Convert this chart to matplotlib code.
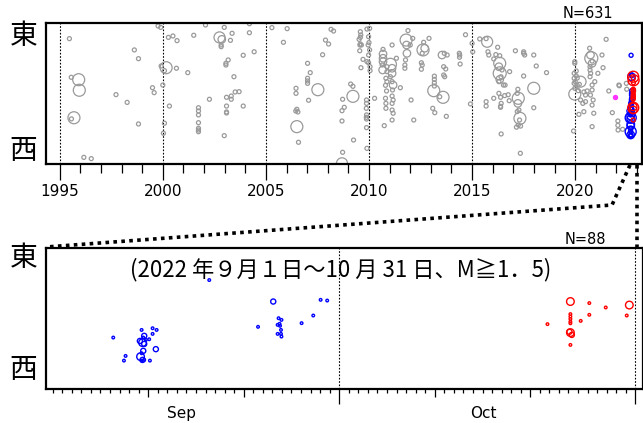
import numpy as np
import matplotlib
matplotlib.use("Agg")
import matplotlib.pyplot as plt
from matplotlib.lines import Line2D

plt.rcParams['font.family'] = ['DejaVu Sans']
JP = ['Noto Sans CJK JP', 'DejaVu Sans']

# ---- data: all events 1995-2022 (gray), year / east-west position (0=west, 100=east) / magnitude
hist_year = [
    1995.47, 1995.56, 1995.92, 1995.95, 1995.69, 1995.57, 1996.17, 1996.53, 1997.73, 1998.27,
    1998.62, 1998.82, 1998.82, 1999.50, 1999.58, 1999.77, 1999.90, 1999.92, 2000.16, 2000.08,
    2000.00, 2000.08, 2000.03, 2000.27, 2000.49, 2000.69, 2000.66, 2001.21, 2000.32, 2001.50,
    2002.07, 2001.73, 2001.73, 2001.73, 2001.73, 2001.73, 2001.73, 2001.73, 2002.26, 2002.75,
    2002.86, 2002.83, 2002.83, 2002.98, 2003.36, 2003.28, 2003.90, 2003.17, 2003.06, 2003.06,
    2003.45, 2003.09, 2003.32, 2003.32, 2003.51, 2003.70, 2003.09, 2003.09, 2003.09, 2003.90,
    2002.98,
    2004.20, 2004.20, 2004.43, 2005.29, 2006.03, 2005.85, 2008.16, 2008.28, 2007.89, 2008.04,
    2007.75, 2007.02, 2007.15, 2007.02, 2007.02, 2007.02, 2007.52, 2006.46, 2006.46, 2007.07,
    2006.50, 2006.55, 2006.45, 2006.50, 2006.58, 2009.11, 2009.22, 2009.22, 2008.72, 2008.80,
    2008.69, 2008.69, 2009.25, 2008.72, 2008.69,
    2009.58, 2009.60, 2009.58, 2009.52, 2009.58, 2009.56, 2009.55, 2009.63, 2009.71, 2009.61,
    2009.90, 2010.03, 2009.98, 2010.00, 2009.96, 2010.03, 2009.98, 2009.90, 2009.98, 2010.05,
    2010.05, 2009.88, 2009.88, 2009.87, 2009.88, 2009.87, 2009.88, 2009.88, 2009.90, 2010.27,
    2010.68, 2010.68, 2010.68, 2010.68, 2010.64, 2010.66, 2010.87, 2010.87, 2010.82, 2010.87,
    2010.80, 2010.85, 2010.80, 2010.82, 2010.82, 2010.74,
    2011.04, 2011.12, 2011.12, 2011.17, 2011.12, 2011.04, 2011.14, 2011.12, 2011.17, 2011.12,
    2011.12, 2011.17, 2011.12, 2011.52, 2011.33, 2011.12,
    2011.80, 2011.82, 2011.84, 2011.77, 2011.74, 2011.74, 2011.89, 2012.12, 2012.00, 2012.17,
    2012.04,
    2012.62, 2012.70, 2012.58, 2012.54, 2012.58, 2012.54, 2012.65, 2012.91,
    2013.14, 2013.17, 2013.17, 2013.17, 2013.17, 2013.43, 2013.09, 2013.19,
    2014.68, 2013.54, 2013.79, 2013.65, 2014.38, 2014.40, 2014.39, 2014.42, 2013.62, 2013.72,
    2013.62, 2013.67, 2013.59, 2013.75, 2014.92, 2015.00, 2015.03, 2015.37, 2015.73, 2015.68,
    2016.24, 2015.77, 2015.81, 2016.34, 2016.15, 2016.05,
    2016.34, 2016.34, 2016.30, 2016.45, 2016.40, 2016.52, 2016.60, 2016.30, 2016.38, 2016.58,
    2016.75, 2016.80, 2016.41, 2016.38, 2016.38, 2015.68, 2015.68, 2016.05, 2016.41, 2016.34,
    2016.30,
    2016.82, 2017.10, 2017.50, 2017.50, 2017.55, 2017.50, 2017.99, 2018.11, 2018.61, 2017.99,
    2017.99,
    2017.22, 2017.19, 2017.24, 2017.22, 2017.27, 2017.19, 2017.32, 2017.30, 2017.24, 2017.35,
    2017.15, 2017.34,
    2019.98, 2019.98, 2019.95, 2019.95, 2020.05, 2020.00, 2019.95, 2020.10, 2019.98, 2020.26,
    2019.98, 2020.15, 2020.42, 2020.50, 2020.58, 2020.50, 2020.37, 2020.26, 2020.18, 2020.42,
    2019.92, 2020.05, 2020.10, 2020.20,
    2020.78, 2020.74, 2020.82, 2020.72, 2020.72, 2020.75, 2020.72, 2020.95, 2020.82, 2020.82,
    2020.74, 2020.87, 2020.82, 2020.90, 2020.82, 2021.10, 2021.30, 2021.35, 2020.70, 2020.82,
    2021.50, 2021.63, 2021.80, 2022.12, 2022.14, 2022.07, 2022.07, 2022.08, 2022.30, 2022.48,
    2022.50,
]
hist_ew = [
    88.9, 61.5, 59.8, 52.3, 32.8, 32.0, 4.7, 3.8, 49.2, 43.7,
    80.9, 74.7, 28.4, 54.1, 50.6, 97.9, 96.9, 69.5, 68.3, 66.2,
    56.0, 28.9, 21.8, 89.8, 90.8, 87.5, 67.9, 64.8, 41.1, 91.3,
    98.6, 39.9, 37.6, 34.8, 29.3, 25.3, 24.1, 22.9, 45.9, 89.8,
    88.4, 84.4, 83.2, 96.9, 92.7, 87.7, 77.1, 73.8, 71.4, 70.2,
    61.9, 47.3, 48.2, 45.9, 51.1, 51.3, 41.1, 36.9, 36.2, 41.1,
    20.1,
    99.5, 93.1, 79.6, 96.7, 96.0, 86.3, 95.5, 94.3, 87.9, 85.1,
    77.5, 71.4, 64.8, 60.8, 58.9, 57.2, 52.7, 53.7, 50.1, 45.2,
    38.8, 36.9, 37.6, 26.5, 15.4, 56.7, 55.1, 48.0, 45.9, 40.2,
    37.8, 30.5, 17.0, 8.3, 0.5,
    93.8, 91.5, 89.8, 88.4, 85.1, 84.4, 80.3, 84.4, 74.2, 68.3,
    95.7, 96.2, 90.3, 86.1, 84.4, 80.9, 77.3, 72.6, 71.8, 69.0,
    66.2, 45.4, 43.0, 39.5, 34.8, 33.1, 31.9, 25.8, 11.1, 46.6,
    81.3, 78.0, 75.0, 72.6, 70.2, 66.7, 69.0, 65.5, 60.8, 58.4,
    55.8, 51.8, 46.6, 43.0, 39.5, 27.2,
    70.7, 67.9, 64.3, 56.0, 58.4, 61.9, 52.5, 48.2, 45.4, 43.0,
    38.3, 36.0, 31.2, 54.1, 75.0, 84.4,
    87.9, 84.4, 78.5, 73.8, 70.2, 67.9, 94.6, 89.1, 84.4, 31.2,
    45.4,
    80.9, 82.1, 78.5, 71.8, 70.2, 67.2, 86.3, 89.1,
    52.0, 62.3, 60.0, 57.6, 55.3, 47.7, 39.5, 36.4,
    91.7, 77.3, 77.3, 78.5, 78.5, 77.3, 75.7, 70.9, 69.0, 67.4,
    63.1, 61.9, 47.3, 33.8, 42.6, 85.6, 79.6, 88.7, 86.7, 88.9,
    82.8, 79.6, 77.3, 76.8, 77.6, 74.5,
    71.4, 64.3, 69.0, 66.7, 61.9, 56.0, 56.0, 50.1, 47.3, 48.5,
    49.1, 44.9, 43.0, 40.9, 40.2, 44.2, 41.1, 46.6, 21.3, 60.0,
    58.4,
    65.5, 80.3, 79.6, 78.5, 77.3, 62.4, 77.3, 69.5, 64.8, 53.7,
    39.9,
    53.0, 50.1, 46.6, 43.0, 38.3, 37.2, 32.4, 31.2, 27.7, 26.9,
    26.1, 7.6,
    72.6, 71.4, 64.3, 60.8, 62.5, 58.4, 57.2, 55.8, 53.7, 58.4,
    49.6, 52.0, 51.1, 48.9, 51.8, 44.2, 43.0, 45.4, 35.2, 37.1,
    23.4, 66.0, 61.0, 56.5,
    75.0, 77.3, 71.4, 69.0, 66.7, 64.3, 61.9, 58.4, 56.0, 52.5,
    48.9, 45.4, 41.8, 36.0, 26.5, 64.3, 77.3, 68.3, 82.1, 73.0,
    88.4, 51.8, 36.4, 56.0, 55.5, 30.5, 27.4, 24.1, 24.6, 57.2,
    53.0,
]
hist_mag = [
    1.6, 1.6, 3.2, 3.2, 3.2, 1.6, 1.6, 1.6, 1.6, 1.6,
    1.6, 1.6, 1.6, 1.6, 1.6, 1.6, 1.6, 1.6, 3.2, 1.6,
    1.6, 1.6, 1.6, 1.6, 1.6, 1.6, 1.6, 1.6, 1.6, 1.6,
    1.6, 1.6, 1.6, 1.6, 1.6, 1.6, 1.6, 1.6, 1.6, 3.0,
    2.3, 1.6, 1.6, 1.6, 1.6, 1.6, 1.6, 1.6, 1.6, 1.6,
    1.6, 1.6, 1.6, 1.6, 1.6, 1.6, 1.6, 1.6, 1.6, 1.6,
    1.6,
    1.6, 1.6, 1.6, 1.6, 1.6, 1.6, 1.6, 1.6, 1.6, 1.6,
    1.6, 1.6, 1.6, 1.6, 1.6, 1.6, 3.2, 1.6, 1.6, 1.6,
    1.6, 1.6, 1.6, 3.2, 1.6, 1.6, 1.6, 3.2, 1.6, 1.6,
    1.6, 1.6, 1.6, 1.6, 3.0,
    1.6, 1.6, 1.6, 1.6, 1.6, 1.6, 1.6, 1.6, 1.6, 1.6,
    1.6, 1.6, 1.6, 1.6, 1.6, 1.6, 1.6, 1.6, 1.6, 1.6,
    1.6, 1.6, 1.6, 1.6, 1.6, 1.6, 1.6, 1.6, 1.6, 1.6,
    1.6, 2.3, 2.3, 2.3, 1.6, 2.3, 1.6, 1.6, 1.6, 1.6,
    1.6, 1.6, 1.6, 1.6, 1.6, 1.6,
    3.2, 2.3, 2.3, 2.3, 1.6, 1.6, 1.6, 1.6, 1.6, 1.6,
    1.6, 1.6, 1.6, 1.6, 1.6, 1.6,
    3.2, 2.3, 2.3, 1.6, 1.6, 1.6, 1.6, 1.6, 1.6, 1.6,
    1.6,
    3.2, 2.3, 1.6, 1.6, 1.6, 1.6, 1.6, 1.6,
    3.2, 1.6, 1.6, 1.6, 1.6, 1.6, 1.6, 1.6,
    1.6, 2.3, 1.6, 1.6, 1.6, 1.6, 1.6, 1.6, 1.6, 1.6,
    1.6, 1.6, 3.2, 1.6, 1.6, 1.6, 1.6, 1.6, 3.0, 1.6,
    1.6, 1.6, 1.6, 1.6, 1.6, 1.6,
    3.2, 3.4, 2.3, 1.6, 1.6, 1.6, 1.6, 1.6, 1.6, 1.6,
    1.6, 1.6, 1.6, 1.6, 1.6, 1.6, 1.6, 1.6, 1.6, 2.3,
    1.6,
    1.6, 1.6, 1.6, 1.6, 1.6, 1.6, 1.6, 1.6, 1.6, 3.2,
    1.6,
    1.6, 1.6, 3.2, 2.3, 1.6, 1.6, 3.2, 1.6, 1.6, 1.6,
    1.6, 1.6,
    1.6, 1.6, 1.6, 1.6, 1.6, 1.6, 1.6, 1.6, 1.6, 3.0,
    3.2, 1.6, 1.6, 1.6, 1.6, 1.6, 1.6, 1.6, 1.6, 1.6,
    1.6, 1.6, 1.6, 1.6,
    3.4, 2.3, 2.3, 1.6, 1.6, 1.6, 1.6, 1.6, 1.6, 1.6,
    1.6, 1.6, 1.6, 1.6, 1.6, 1.6, 1.6, 1.6, 1.6, 1.6,
    1.6, 1.6, 1.6, 1.6, 1.6, 1.6, 1.6, 1.6, 1.6, 1.6,
    1.6,
]

# one extra event highlighted in magenta
pink_year = [2021.92]
pink_ew = [47.7]

# ---- 2022-09-01 .. 2022-10-31 events, day since Sep 1
sep_day = [6.34, 7.46, 7.63, 9.31, 9.58, 9.48, 9.13, 9.41, 9.58, 9.76,
           10.10, 10.46, 10.88, 10.46, 10.80, 9.48, 9.31, 9.20, 9.41, 9.58,
           10.18, 9.30, 16.39, 21.50, 23.09, 23.65, 23.75, 23.55, 23.80, 23.95,
           23.90, 23.55, 23.90, 23.95, 26.06, 27.28, 28.05, 28.74]
sep_ew = [36.4, 20.1, 23.4, 41.8, 37.6, 36.4, 34.0, 32.8, 31.9, 34.8,
          35.2, 43.0, 41.8, 39.0, 28.2, 27.0, 25.3, 22.9, 20.6, 20.6,
          20.1, 20.1, 77.1, 44.0, 61.9, 50.1, 46.1, 45.4, 44.7, 48.9,
          41.8, 39.0, 39.0, 37.1, 46.6, 52.0, 63.1, 62.6]
sep_mag = [1.6, 1.6, 1.6, 1.6, 2.3, 1.6, 2.3, 3.0, 2.3, 1.6,
           1.6, 1.6, 1.6, 1.6, 2.3, 2.3, 1.6, 3.0, 2.3, 1.6,
           1.6, 1.6, 1.6, 1.6, 2.3, 1.6, 1.6, 1.6, 1.6, 1.6,
           1.6, 1.6, 1.6, 1.6, 1.6, 1.6, 1.6, 1.6]

oct_day = [51.80, 54.20, 54.20, 54.20, 54.20, 54.20, 54.20, 54.20, 54.35, 54.10,
           54.20, 55.28, 56.18, 56.18, 57.90, 60.37, 60.10]
oct_ew = [45.9, 61.9, 53.0, 51.3, 49.6, 47.7, 46.5, 39.9, 38.3, 40.5,
          31.2, 48.2, 60.8, 52.5, 57.7, 59.4, 52.0]
oct_mag = [1.6, 3.0, 1.6, 1.6, 1.6, 1.6, 1.6, 3.0, 2.3, 2.3,
           1.6, 1.6, 1.6, 1.6, 1.6, 3.0, 1.6]

SEP1 = 2022 + 243 / 365.0


def size_top(m):
    d = 4 + (np.asarray(m) - 1.6) * 5.0   # diameter in px
    return (d * 0.72) ** 2


def size_bot(m):
    d = 2.6 + (np.asarray(m) - 1.6) * 3.6
    return (d * 0.72) ** 2


fig = plt.figure(figsize=(6.43, 4.23), dpi=100)
ax1 = fig.add_axes([46 / 643, 1 - 164 / 423, 596 / 643, 141 / 423])
ax2 = fig.add_axes([46 / 643, 1 - 389 / 423, 596.7 / 643, 141.3 / 423])

# ---- top panel
ax1.scatter(hist_year, hist_ew, s=size_top(hist_mag), facecolors='none',
            edgecolors='#9a9a9a', linewidths=0.9, zorder=2)
ax1.scatter(pink_year, pink_ew, s=size_top([1.6]), color='#ff33ff', zorder=3)
ax1.scatter(SEP1 + np.array(sep_day) / 365.0, sep_ew, s=size_top(sep_mag),
            facecolors='none', edgecolors='#0000ff', linewidths=1.0, zorder=3)
ax1.scatter(SEP1 + np.array(oct_day) / 365.0, oct_ew, s=size_top(oct_mag),
            facecolors='none', edgecolors='#ff0000', linewidths=1.0, zorder=4)
for yr in range(1995, 2021, 5):
    ax1.axvline(yr, color='black', lw=0.8, ls=(0, (1.5, 1.5)), zorder=1)
ax1.set_xlim(1994.335, 2023.24)
ax1.set_ylim(0, 100)
ax1.set_xticks(range(1995, 2021, 5))
ax1.set_xticks(range(1995, 2024), minor=True)
ax1.tick_params(axis='x', which='major', length=11.5, width=0.9, labelsize=11, pad=3)
ax1.tick_params(axis='x', which='minor', length=6.5, width=0.9)
ax1.set_yticks([])

# ---- bottom panel
ax2.scatter(sep_day, sep_ew, s=size_bot(sep_mag), facecolors='none',
            edgecolors='#0000ff', linewidths=1.0, zorder=3)
ax2.scatter(oct_day, oct_ew, s=size_bot(oct_mag), facecolors='none',
            edgecolors='#ff0000', linewidths=1.0, zorder=3)
for d in [30, 61]:
    ax2.axvline(d, color='black', lw=0.8, ls=(0, (1.5, 1.5)), zorder=1)
ax2.set_xlim(-0.7, 61.77)
ax2.set_ylim(0, 100)
big_ticks = [10, 20, 30, 40, 50, 61]
ax2.set_xticks(big_ticks)
ax2.set_xticklabels([])
ax2.set_xticks(range(0, 62), minor=True)
ax2.tick_params(axis='x', which='major', length=11, width=0.9)
ax2.tick_params(axis='x', which='minor', length=3, width=0.9)
ax2.set_yticks([])
# month boundaries get long ticks, 11th and 21st medium ones
for pos, tk in zip(big_ticks, ax2.xaxis.get_major_ticks()):
    if pos not in (30, 61):
        tk.tick1line.set_markersize(6)
for x, lab in [(13.5, 'Sep'), (45.1, 'Oct')]:
    ax2.text(x, -0.17, lab, transform=ax2.get_xaxis_transform(), ha='center',
             va='center', fontsize=11)

ax2.text(0.493, 0.842, '(2022 年９月１日～10 月 31 日、M≧1．5)',
         transform=ax2.transAxes, ha='center', va='center', fontsize=16, family=JP)

for ax in (ax1, ax2):
    for sp in ax.spines.values():
        sp.set_linewidth(1.6)

# east / west labels
for yc in [36, 151, 258, 370]:
    fig.text(23.5 / 643, 1 - yc / 423, '東' if yc in (36, 258) else '西',
             ha='center', va='center', fontsize=20, family=JP)

fig.text(613 / 643, 1 - 13 / 423, 'N=631', ha='right', va='center', fontsize=10.5)
fig.text(606 / 643, 1 - 239 / 423, 'N=88', ha='right', va='center', fontsize=10.5)

# zoom connector lines (figure coordinates)
dots = (0, (1, 1.2))
fig.add_artist(Line2D([630 / 643, 612 / 643, 46 / 643],
                      [1 - 165 / 423, 1 - 205 / 423, 1 - 247 / 423],
                      color='black', lw=2.6, ls=dots))
fig.add_artist(Line2D([637 / 643, 637 / 643], [1 - 165 / 423, 1 - 247 / 423],
                      color='black', lw=2.6, ls=dots))

fig.savefig('out.png', dpi=100)
